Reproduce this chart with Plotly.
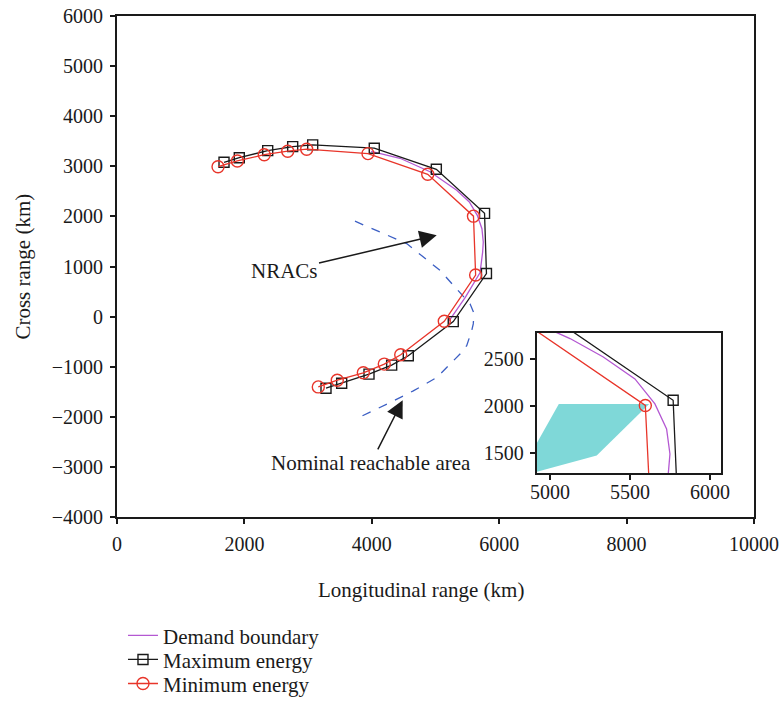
import plotly.graph_objects as go

# ---------------- data ----------------
max_x = [1680, 1920, 2366, 2758, 3072, 4039, 5013, 5770, 5800, 5279, 4573, 4312, 3956, 3527, 3281]
max_y = [3080, 3172, 3313, 3393, 3427, 3361, 2940, 2060, 860, -100, -782, -968, -1148, -1329, -1429]

min_x = [1586, 1889, 2312, 2680, 2978, 3940, 4878, 5596, 5630, 5138, 4454, 4196, 3867, 3458, 3160]
min_y = [2992, 3106, 3232, 3301, 3341, 3253, 2840, 2005, 830, -94, -762, -948, -1122, -1269, -1403]

dem_x = [3990, 4443, 4914, 5042, 5125, 5333, 5531, 5656, 5729, 5750, 5740, 5700, 5470, 5210]
dem_y = [3300, 3160, 2892, 2780, 2717, 2521, 2287, 2021, 1755, 1489, 1288, 880, 390, -90]

nom_x = [3736, 4548, 5071, 5385, 5542, 5604, 5593, 5568, 5490, 5385, 5019, 4651, 4286, 3736]
nom_y = [1904, 1457, 922, 487, 255, 64, -146, -281, -581, -748, -1216, -1483, -1717, -2050]

patch_x = [5055, 5620, 5292, 4797, 5055]
patch_y = [2021, 2021, 1473, 1242, 2021]

main_xticks = [0, 2000, 4000, 6000, 8000, 10000]
main_xticktext = ["0", "2000", "4000", "6000", "8000", "10000"]
main_yticks = [-4000, -3000, -2000, -1000, 0, 1000, 2000, 3000, 4000, 5000, 6000]
main_yticktext = ["\u22124000", "\u22123000", "\u22122000", "\u22121000", "0", "1000",
                  "2000", "3000", "4000", "5000", "6000"]
inset_xticks = [5000, 5500, 6000]
inset_yticks = [1500, 2000, 2500]

# ---------------- style ----------------
FONT = "Liberation Serif"
RED = "#e8352a"
BLACK = "#1a1a1a"
PURPLE = "#b458d2"
BLUE = "#3c5fc4"
CYAN = "#7fd8d8"
TICK_SIZE = 20
TEXT_SIZE = 21

fig = go.Figure()

for ax, ay, show in [("x", "y", True), ("x2", "y2", False)]:
    if ax == "x2":
        fig.add_trace(go.Scatter(x=patch_x, y=patch_y, fill="toself", fillcolor=CYAN,
                                 line=dict(width=0), mode="lines", showlegend=False,
                                 hoverinfo="skip", xaxis=ax, yaxis=ay))
    fig.add_trace(go.Scatter(x=nom_x, y=nom_y, mode="lines", showlegend=False,
                             line=dict(color=BLUE, width=1.3, dash="dash"),
                             xaxis=ax, yaxis=ay))
    fig.add_trace(go.Scatter(x=dem_x, y=dem_y, mode="lines", name="Demand boundary",
                             line=dict(color=PURPLE, width=1.3), showlegend=show,
                             legend="legend", xaxis=ax, yaxis=ay))
    fig.add_trace(go.Scatter(x=max_x, y=max_y, mode="lines+markers", name="Maximum energy",
                             line=dict(color=BLACK, width=1.3),
                             marker=dict(symbol="square-open", size=10, color=BLACK,
                                         line=dict(width=1.4)),
                             showlegend=show, legend="legend2", xaxis=ax, yaxis=ay))
    fig.add_trace(go.Scatter(x=min_x, y=min_y, mode="lines+markers", name="Minimum energy",
                             line=dict(color=RED, width=1.3),
                             marker=dict(symbol="circle-open", size=12, color=RED,
                                         line=dict(width=1.4)),
                             showlegend=show, legend="legend3", xaxis=ax, yaxis=ay))

axis_common = dict(showline=True, mirror=True, linecolor=BLACK, linewidth=2,
                   ticks="outside", ticklen=5, tickwidth=1.5, tickcolor=BLACK,
                   showgrid=False, zeroline=False,
                   tickfont=dict(family=FONT, size=TICK_SIZE, color=BLACK))

leg_common = dict(x=0.0094, xanchor="left", yanchor="middle",
                  font=dict(family=FONT, size=TEXT_SIZE, color=BLACK),
                  bgcolor="rgba(0,0,0,0)")

fig.update_layout(
    width=779, height=714,
    margin=dict(l=117, r=25, t=16, b=197, autoexpand=False),
    paper_bgcolor="white", plot_bgcolor="white",
    font=dict(family=FONT, size=TEXT_SIZE, color=BLACK),
    xaxis=dict(range=[0, 10000], tickvals=main_xticks, ticktext=main_xticktext,
               ticklabelstandoff=3, **axis_common),
    yaxis=dict(range=[-4000, 6000], tickvals=main_yticks, ticktext=main_yticktext,
               ticklabelstandoff=3, **axis_common),
    xaxis2=dict(domain=[0.659, 0.9476], range=[4917, 6067], tickvals=inset_xticks,
                anchor="y2", ticklabelstandoff=-5, **axis_common),
    yaxis2=dict(domain=[0.088, 0.368], range=[1287, 2780], tickvals=inset_yticks,
                anchor="x2", ticklabelstandoff=2, **axis_common),
    legend=dict(y=-0.237, **leg_common),
    legend2=dict(y=-0.285, **leg_common),
    legend3=dict(y=-0.333, **leg_common),
    showlegend=True,
)

fig.add_annotation(text="Longitudinal range (km)", xref="paper", yref="paper",
                   x=0.478, y=-0.146, showarrow=False, xanchor="center", yanchor="middle",
                   font=dict(family=FONT, size=TEXT_SIZE, color=BLACK))
fig.add_annotation(text="Cross range (km)", xref="paper", yref="paper",
                   x=-0.149, y=0.5, showarrow=False, textangle=-90,
                   xanchor="center", yanchor="middle",
                   font=dict(family=FONT, size=TEXT_SIZE, color=BLACK))

fig.add_annotation(text="NRACs", x=5019, y=1623, xref="x", yref="y",
                   ax=-152.7, ay=36, showarrow=True, arrowhead=2, arrowsize=2.3,
                   arrowwidth=1.5, arrowcolor=BLACK,
                   font=dict(family=FONT, size=TEXT_SIZE, color=BLACK))
fig.add_annotation(text="Nominal reachable area", x=4485, y=-1669, xref="x", yref="y",
                   ax=-31.7, ay=62.7, showarrow=True, arrowhead=2, arrowsize=2.3,
                   arrowwidth=1.5, arrowcolor=BLACK,
                   font=dict(family=FONT, size=TEXT_SIZE, color=BLACK))

fig.write_html("out.html")
